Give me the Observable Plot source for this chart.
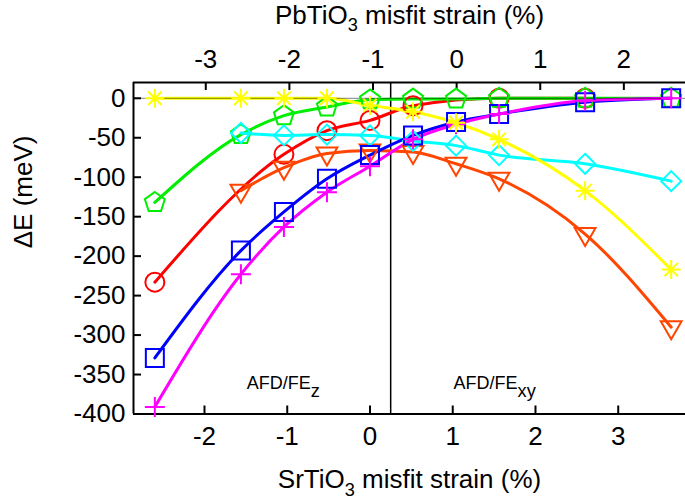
<!DOCTYPE html>
<html>
<head>
<meta charset="utf-8">
<script src="https://cdn.jsdelivr.net/npm/d3@7"></script>
<script src="https://cdn.jsdelivr.net/npm/@observablehq/plot@0.6"></script>
<style>
  html, body { margin: 0; padding: 0; background: #fff; }
</style>
</head>
<body>
<div id="chart"></div>
<script>
// ---- data ----
const strainSTO = [-2.6, -1.56, -1.04, -0.52, 0, 0.52, 1.04, 1.56, 2.6, 3.64];

const seriesRed     = [-233, null, -71, -41, -28, -9.5, null, 0, 0, null];
const seriesOrange  = [null, -117, -88, -70, -66, -68, -83, -102, -172, -290];
const seriesGreen   = [-132, -46, -22, -11, -2, -1, -1, 0, 0, 0];
const seriesCyan    = [null, -44, -47, -46, -47, -54, -60, -72, -83, -105];
const seriesBlue    = [-329, -193, -144, -102, -72, -47, -30, -20, -5, 0];
const seriesMagenta = [-391, -223, -163, -119, -86, -52, -33, -20, -3, 0];
const seriesYellow  = [0, 0, 0, 0, -9, -17, -31, -52, -117, -217];

const xTicksSTO = [-2, -1, 0, 1, 2, 3];
const xTicksPTO = [-3, -2, -1, 0, 1, 2];
const yTicks = [-400, -350, -300, -250, -200, -150, -100, -50, 0];

// PbTiO3 strain -> SrTiO3 strain (linear relation of the two substrate scales)
const STO_AT_PTO_ZERO = 1.047;
const PTO_SLOPE = 1.0105;
const ptoToSto = p => STO_AT_PTO_ZERO + PTO_SLOPE * p;

const phaseBoundary = [0.25];
const annotations = [
  {x: -1.49, y: -368, label: "AFD/FE_{z}"},
  {x: 1.01, y: -368, label: "AFD/FE_{xy}"}
];
const xLabel = "SrTiO_{3} misfit strain (%)";
const x2Label = "PbTiO_{3} misfit strain (%)";
const yLabel = "ΔE (meV)";

// ---- symbols ----
function sym(fn) { return {draw(ctx, size) { fn(ctx, Math.sqrt(size / Math.PI)); }}; }
const symCircle = sym((c, r) => { c.moveTo(r, 0); c.arc(0, 0, r, 0, 2 * Math.PI); });
const symSquare = sym((c, r) => { c.rect(-r, -r, 2 * r, 2 * r); });
const symDiamond = sym((c, r) => { c.moveTo(0, -r); c.lineTo(r, 0); c.lineTo(0, r); c.lineTo(-r, 0); c.closePath(); });
const symPentagon = sym((c, r) => {
  for (let k = 0; k < 5; k++) {
    const a = -Math.PI / 2 + k * 2 * Math.PI / 5;
    const px = r * Math.cos(a), py = r * Math.sin(a);
    if (k) c.lineTo(px, py); else c.moveTo(px, py);
  }
  c.closePath();
});
const symTriDown = sym((c, r) => { c.moveTo(-r * 0.866, -r * 0.5); c.lineTo(r * 0.866, -r * 0.5); c.lineTo(0, r); c.closePath(); });
const symPlus = sym((c, r) => { c.moveTo(-r, 0); c.lineTo(r, 0); c.moveTo(0, -r); c.lineTo(0, r); });
const symStar = sym((c, r) => {
  const d = r * 0.7071;
  c.moveTo(-r, 0); c.lineTo(r, 0); c.moveTo(0, -r); c.lineTo(0, r);
  c.moveTo(-d, -d); c.lineTo(d, d); c.moveTo(-d, d); c.lineTo(d, -d);
});

const series = [
  {name: "red", values: seriesRed, color: "#ff0000", symbol: symCircle, r: 9.5},
  {name: "orange", values: seriesOrange, color: "#ff4500", symbol: symTriDown, r: 12},
  {name: "green", values: seriesGreen, color: "#00ee00", symbol: symPentagon, r: 10.5},
  {name: "cyan", values: seriesCyan, color: "#00ffff", symbol: symDiamond, r: 10},
  {name: "blue", values: seriesBlue, color: "#0000ff", symbol: symSquare, r: 9},
  {name: "magenta", values: seriesMagenta, color: "#ff00ff", symbol: symPlus, r: 10},
  {name: "yellow", values: seriesYellow, color: "#ffff00", symbol: symStar, r: 9.5}
];

function rows(s) {
  const out = [];
  s.values.forEach((v, i) => { if (v !== null) out.push({x: strainSTO[i], y: v}); });
  return out;
}

const W = 685, H = 501;
const mL = 133, mR = 0, mT = 82, mB = 87.5;
const frameW = W - mL - mR, frameH = H - mT - mB;
const xDomain = [-2.858, 3.813];
const yDomain = [-400, 20];
const FONT = 26;

const marks = [];
// frame (top, bottom, left)
marks.push(Plot.ruleX([xDomain[0]], {stroke: "black", strokeWidth: 2}));
marks.push(Plot.ruleY([yDomain[0]], {stroke: "black", strokeWidth: 2}));
marks.push(Plot.ruleY([yDomain[1]], {stroke: "black", strokeWidth: 2}));
// inward ticks
marks.push(Plot.tickX(xTicksSTO, {x: d => d, insetTop: frameH - 8, stroke: "black", strokeWidth: 2}));
marks.push(Plot.tickX(xTicksPTO.map(ptoToSto), {x: d => d, insetBottom: frameH - 8, stroke: "black", strokeWidth: 2}));
marks.push(Plot.tickY(yTicks, {y: d => d, insetRight: frameW - 8, stroke: "black", strokeWidth: 2}));
// tick labels
marks.push(Plot.axisX(xTicksSTO, {anchor: "bottom", label: null, tickSize: 0, tickPadding: 13, tickFormat: d => String(d), fontSize: FONT}));
marks.push(Plot.axisX(xTicksPTO.map(ptoToSto), {anchor: "top", label: null, tickSize: 0, tickPadding: 15,
  tickFormat: d => String(Math.round((d - STO_AT_PTO_ZERO) / PTO_SLOPE)), fontSize: FONT}));
marks.push(Plot.axisY(yTicks, {anchor: "left", label: null, tickSize: 0, tickPadding: 8, tickFormat: d => String(d), fontSize: FONT}));
// phase boundary
marks.push(Plot.ruleX(phaseBoundary, {stroke: "black", strokeWidth: 1.5}));

// series
for (const s of series) {
  const d = rows(s);
  marks.push(Plot.line(d, {x: "x", y: "y", stroke: s.color, strokeWidth: 3, curve: "monotone-x"}));
}
marks.push(Plot.ruleY([0], {stroke: "black", strokeWidth: 1, strokeOpacity: 0.5}));
for (const s of series) {
  const d = rows(s);
  marks.push(Plot.dot(d, {x: "x", y: "y", stroke: s.color, strokeWidth: 2, symbol: s.symbol, r: s.r, fill: "none"}));
}

// annotations
marks.push(Plot.text(annotations, {x: "x", y: "y", text: "label", textAnchor: "start", lineAnchor: "bottom", fontSize: 18}));
// axis titles
marks.push(Plot.text([xLabel], {frameAnchor: "bottom", text: d => d, lineAnchor: "bottom", dy: 74, fontSize: FONT}));
marks.push(Plot.text([x2Label], {frameAnchor: "top", text: d => d, lineAnchor: "bottom", dy: -59, fontSize: FONT}));
marks.push(Plot.text([yLabel], {frameAnchor: "left", text: d => d, rotate: -90, dx: -110, fontSize: FONT}));

const chart = Plot.plot({
  width: W, height: H,
  marginLeft: mL, marginRight: mR, marginTop: mT, marginBottom: mB,
  style: {fontFamily: "'Liberation Sans', Arial, Helvetica, sans-serif", fontSize: FONT + "px", background: "white", overflow: "visible"},
  x: {domain: xDomain, axis: null},
  y: {domain: yDomain, axis: null},
  marks
});

// render "_{...}" as subscripts
d3.select(chart).selectAll("text").each(function() {
  const s = this.textContent;
  if (!s.includes("_{")) return;
  const fs = parseFloat(getComputedStyle(this).fontSize) || FONT;
  const parts = s.split(/_\{([^}]*)\}/);
  this.textContent = "";
  const sel = d3.select(this);
  let shifted = false;
  parts.forEach((p, i) => {
    if (p === "") { return; }
    const t = sel.append("tspan").text(p);
    if (i % 2 === 1) {
      t.attr("font-size", (fs * 0.7) + "px").attr("dy", fs * 0.3);
      shifted = true;
    } else if (shifted) {
      t.attr("dy", -fs * 0.3);
      shifted = false;
    }
  });
});

document.getElementById("chart").appendChild(chart);
</script>
</body>
</html>
